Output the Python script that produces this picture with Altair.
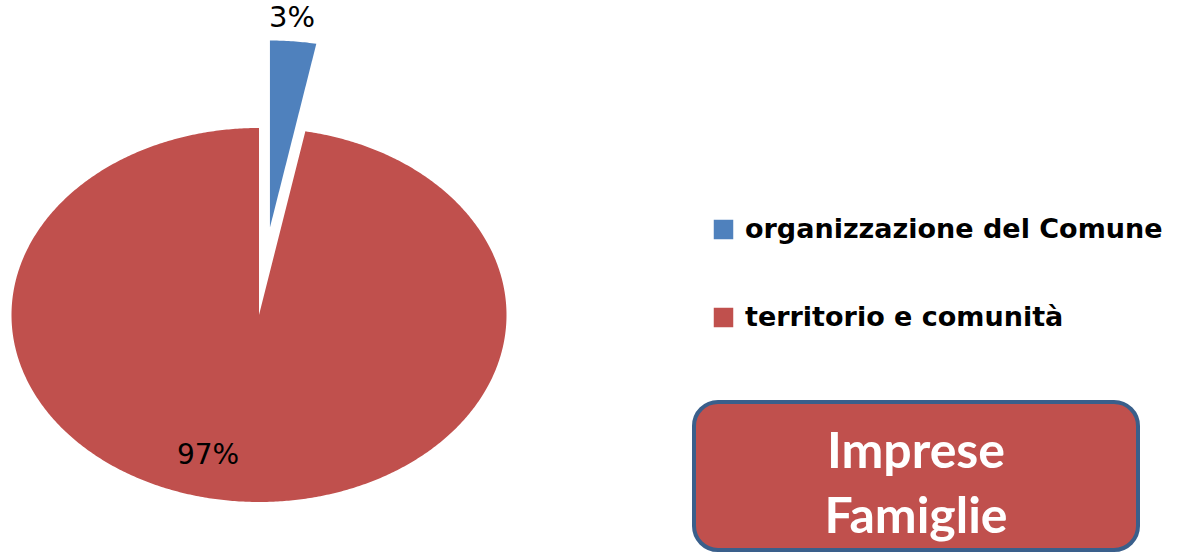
import numpy as np
import pandas as pd
import altair as alt

# ---- data ----
categories = ["organizzazione del Comune", "territorio e comunità"]
values = [3, 97]
colors = ["#4F81BD", "#C0504D"]
explode = [0.47, 0.0]          # exploded distance (in radii) of each slice
box_lines = ["Imprese", "Famiglie"]

# ---- layout constants (pixels) ----
W, H = 1182, 553
CX, CY = 259.0, 315.0          # pie centre
RX, RY = 247.5, 187.0          # pie radii (elliptic look)

# ---- build slice outlines from the values ----
rows = []
total = float(sum(values))
acc = 0.0
for cat, v, ex in zip(categories, values, explode):
    a0 = acc / total * 2 * np.pi
    a1 = (acc + v) / total * 2 * np.pi
    mid = (a0 + a1) / 2
    ox, oy = ex * np.sin(mid), ex * np.cos(mid)
    n = max(3, int(np.degrees(a1 - a0) * 2))
    pts = [(ox, oy)] + [(ox + np.sin(a), oy + np.cos(a)) for a in np.linspace(a0, a1, n)] + [(ox, oy)]
    for i, (px, py) in enumerate(pts):
        rows.append({"cat": cat, "x": px, "y": py, "i": i})
    acc += v
pie_df = pd.DataFrame(rows)

xs = alt.Scale(domain=[-CX / RX, (W - CX) / RX], nice=False, zero=False)
ys = alt.Scale(domain=[-(H - CY) / RY, CY / RY], nice=False, zero=False)

pie = alt.Chart(pie_df).mark_line(filled=True, strokeWidth=0).encode(
    x=alt.X("x:Q", scale=xs, axis=None),
    y=alt.Y("y:Q", scale=ys, axis=None),
    order=alt.Order("i:Q"),
    color=alt.Color(
        "cat:N",
        scale=alt.Scale(domain=categories, range=colors),
        legend=alt.Legend(
            title=None, orient="none", legendX=710, legendY=216,
            symbolType="square", symbolSize=380, symbolStrokeWidth=0,
            labelFont="DejaVu Sans", labelFontWeight="bold", labelFontSize=27,
            labelColor="black", labelLimit=600, labelOffset=8,
            rowPadding=60, padding=0,
        ),
    ),
)

lab_df = pd.DataFrame({"t": [f"{v}%" for v in values]})
lab1 = alt.Chart(lab_df.iloc[[0]]).mark_text(
    font="DejaVu Sans", fontSize=29, color="black", align="center", baseline="middle"
).encode(text="t:N", x=alt.value(292), y=alt.value(18))
lab2 = alt.Chart(lab_df.iloc[[1]]).mark_text(
    font="DejaVu Sans", fontSize=28, color="black", align="center", baseline="middle"
).encode(text="t:N", x=alt.value(208), y=alt.value(456))

box_df = pd.DataFrame({"k": [0]})
box = alt.Chart(box_df).mark_rect(
    cornerRadius=24, fill="#C0504D", stroke="#3A5F8B", strokeWidth=4
).encode(x=alt.value(694), x2=alt.value(1138), y=alt.value(402), y2=alt.value(550))

txt_df = pd.DataFrame({"t": box_lines})
box_txt = []
for j, yy in enumerate([453, 518]):
    box_txt.append(
        alt.Chart(txt_df.iloc[[j]]).mark_text(
            font="Lato", fontWeight="bold", fontSize=50, color="white",
            align="center", baseline="middle"
        ).encode(text="t:N", x=alt.value(916), y=alt.value(yy))
    )

chart = alt.layer(pie, lab1, lab2, box, *box_txt).properties(
    width=W, height=H, padding=0, autosize="none"
).configure_view(stroke=None)

chart.save("out.html", embed_options={"renderer": "svg", "actions": False})
